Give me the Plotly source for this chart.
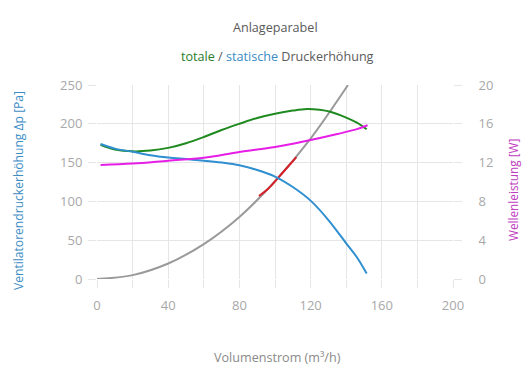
import plotly.graph_objects as go

# Data
q_static = [2, 10, 20, 30, 40, 50, 60, 70, 80, 90, 100, 110, 120, 130, 140, 146, 151.5]
p_static = [174, 168, 164, 159.5, 156.5, 154.5, 152.5, 150, 146.5, 140.5, 132, 118.5, 101, 76, 46, 28, 7]

q_total = [2, 10, 20, 30, 40, 50, 60, 70, 80, 90, 100, 110, 118, 125, 131, 140, 146, 151.5]
p_total = [173, 167, 164.5, 165.5, 169, 175, 183, 192, 200, 207.5, 213, 217, 219, 218, 215.5, 208, 201.5, 193]

q_power = [2, 20, 40, 60, 80, 100, 118, 135, 146, 152]
w_power = [11.75, 11.9, 12.2, 12.5, 13.1, 13.6, 14.25, 14.95, 15.45, 15.85]

q_system = [0, 20, 40, 60, 80, 100, 120, 141]
p_system = [0, 5, 20, 45, 80, 126, 181, 250]

q_work = [91, 96, 102, 107, 112]
p_work = [107, 116, 131, 144, 157]

x_ticks = [0, 40, 80, 120, 160, 200]
y_ticks = [0, 50, 100, 150, 200, 250]
y2_ticks = [0, 4, 8, 12, 16, 20]

FONT = "Open Sans"
GRID = "#e6e6e6"
TICKC = "#a8a8a8"

fig = go.Figure()
fig.add_trace(go.Scatter(x=q_system, y=p_system, mode="lines", line=dict(color="#9a9a9a", width=2, shape="spline"), hoverinfo="skip"))
fig.add_trace(go.Scatter(x=q_work, y=p_work, mode="lines", line=dict(color="#d81e28", width=2, shape="spline"), hoverinfo="skip"))
fig.add_trace(go.Scatter(x=q_total, y=p_total, mode="lines", line=dict(color="#1f8a1f", width=2, shape="spline"), hoverinfo="skip"))
fig.add_trace(go.Scatter(x=q_static, y=p_static, mode="lines", line=dict(color="#2f8fd0", width=2, shape="spline"), hoverinfo="skip"))
fig.add_trace(go.Scatter(x=q_power, y=w_power, mode="lines", yaxis="y2", line=dict(color="#e61ee6", width=2, shape="spline"), hoverinfo="skip"))

def px2paper_x(px):
    return (px - 97) / 356

def px2paper_y(py):
    return (279 - py) / 194

def ann(text, px, py, color, angle=0, size=13):
    return dict(text=text, x=px2paper_x(px), y=px2paper_y(py), xref="paper", yref="paper",
                xanchor="center", yanchor="middle", showarrow=False, textangle=angle,
                font=dict(family=FONT, size=size, color=color))

fig.update_layout(
    width=530, height=390,
    # page body adds an 8px offset; compensate so plot area lands at x 97..453, y 85..279
    margin=dict(l=89, r=85, t=77, b=119),
    paper_bgcolor="white", plot_bgcolor="white",
    showlegend=False,
    font=dict(family=FONT, size=13, color=TICKC),
    xaxis=dict(range=[0, 200], tickvals=x_ticks, showgrid=True, gridcolor=GRID,
               ticks="outside", ticklen=8, tickcolor=GRID, zeroline=False, showline=False,
               minor=dict(dtick=20, tick0=0, showgrid=True, gridcolor=GRID, ticks="outside", ticklen=8, tickcolor=GRID),
               ticklabelstandoff=6, fixedrange=True),
    yaxis=dict(range=[0, 250], tickvals=y_ticks, showgrid=True, gridcolor=GRID,
               ticks="outside", ticklen=8, tickcolor=GRID, zeroline=False, showline=False,
               ticklabelstandoff=3, fixedrange=True),
    yaxis2=dict(range=[0, 20], tickvals=y2_ticks, overlaying="y", side="right", showgrid=False,
                ticks="outside", ticklen=8, tickcolor=GRID, zeroline=False, showline=False,
                ticklabelstandoff=14, fixedrange=True),
    annotations=[
        ann("Anlageparabel", 275, 28, "#5a5a5a", size=12.6),
        ann("<span style='color:#2a7d2a'>totale</span> / <span style='color:#3a8cc4'>statische</span> Druckerhöhung", 277, 56, "#5a5a5a", size=12.6),
        ann("Volumenstrom (m³/h)", 277, 357, "#8a8a8a", size=12.6),
        ann("Ventilatorendruckerhöhung Δp [Pa]", 18, 191, "#3c8dc5", -90, size=12.1),
        ann("Wellenleistung [W]", 513, 190, "#c03cc0", -90, size=11.8),
    ],
)

fig.write_html("out.html", config={"displayModeBar": False})
